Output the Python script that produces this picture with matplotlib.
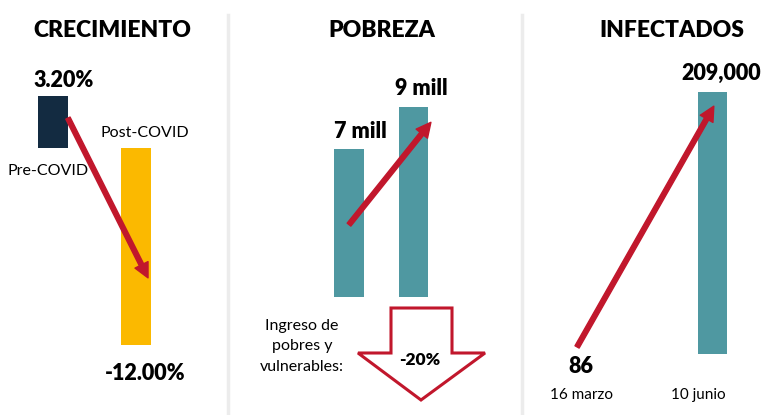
import matplotlib
matplotlib.use('agg')
import matplotlib.pyplot as plt
from matplotlib.lines import Line2D
from matplotlib.patches import Polygon

plt.rcParams['font.family'] = ['Lato', 'DejaVu Sans']

# data
crec_labels = ["Pre-COVID", "Post-COVID"]
crec_values = [3.2, -12.0]
crec_text = ["3.20%", "-12.00%"]

pob_values = [7, 9]
pob_text = ["7 mill", "9 mill"]
ingreso_text = "-20%"

inf_labels = ["16 marzo", "10 junio"]
inf_values = [86, 209000]
inf_text = ["86", "209,000"]

NAVY = '#132b41'
GOLD = '#fbb900'
TEAL = '#4f98a1'
RED = '#c1172c'
SEP = '#ececec'
BOLD = 'heavy'

W, H = 766, 415
fig = plt.figure(figsize=(W / 100, H / 100), dpi=100)
fig.patch.set_facecolor('white')


def panel_axes(left_px, right_px, x0, sx, y0, sy):
    # axes covering one column, limits chosen so data units map onto the layout
    ax = fig.add_axes([left_px / W, 0, (right_px - left_px) / W, 1])
    ax.set_xlim((left_px - x0) / sx, (right_px - x0) / sx)
    ax.set_ylim((y0 - H) / sy, y0 / sy)
    ax.axis('off')
    return ax


def label(ax, x, y, s, dx, dy, size, bold=True, ha='center'):
    ax.annotate(s, xy=(x, y), xytext=(dx, dy), textcoords='offset pixels',
                ha=ha, va='baseline', fontsize=size,
                fontweight=BOLD if bold else 'normal', color='black',
                annotation_clip=False)


def red_arrow(ax, start, tip):
    ax.annotate('', xy=tip, xytext=start,
                arrowprops=dict(width=3.4, headwidth=10.5, headlength=10.5,
                                color=RED, shrink=0),
                annotation_clip=False)


def title(x_px, s):
    fig.text(x_px / W, 1 - 37 / H, s, ha='center', va='baseline',
             fontsize=16.5, fontweight=BOLD)


# separators
for xs in (228, 522):
    fig.add_artist(Line2D([xs / W] * 2, [0, 1 - 15 / H], color=SEP, lw=2.5))

# ---- CRECIMIENTO
ax1 = panel_axes(0, 228, 53, 83, 148, 16.4)
ax1.bar(range(2), crec_values, width=0.36, color=[NAVY, GOLD])
title(112, "CRECIMIENTO")
label(ax1, 0, crec_values[0], crec_text[0], 11, 9, 15.5)
label(ax1, 1, crec_values[1], crec_text[1], 9, -35, 15.5)
label(ax1, 0, 0, crec_labels[0], -5, -27, 11.5, bold=False)
label(ax1, 1, 0, crec_labels[1], 9, 11, 11.5, bold=False)
red_arrow(ax1, (0.18, crec_values[0] * 0.57), (1.145, crec_values[1] * 0.66))

# ---- POBREZA
ax2 = panel_axes(228, 522, 349, 64.5, 297, 21.1)
ax2.bar(range(2), pob_values, width=0.465, color=TEAL)
title(382, "POBREZA")
label(ax2, 0, pob_values[0], pob_text[0], 11, 11, 15.5)
label(ax2, 1, pob_values[1], pob_text[1], 8, 12, 15.5)
red_arrow(ax2, (0, pob_values[0] * 0.49), (1.27, pob_values[1] * 0.92))

# hollow down arrow for income change
pts = [(391, 308), (452, 308), (452, 353), (485, 353), (421, 400),
       (358, 353), (391, 353)]
fig.add_artist(Polygon([(x / W, 1 - y / H) for x, y in pts], closed=True,
                       facecolor='white', edgecolor=RED, lw=2.2,
                       joinstyle='miter', transform=fig.transFigure))
fig.text(420 / W, 1 - 365 / H, ingreso_text, ha='center', va='baseline',
         fontsize=12.5, fontweight=BOLD)
for line, yb in zip(["Ingreso de", "pobres y", "vulnerables:"], [330, 350, 371]):
    fig.text(302 / W, 1 - yb / H, line, ha='center', va='baseline', fontsize=11.5)

# ---- INFECTADOS
sy3 = 262 / 209000
ax3 = panel_axes(522, 766, 581, 131.5, 354, sy3)
ax3.bar(range(2), inf_values, width=0.22, color=TEAL)
title(672, "INFECTADOS")
label(ax3, 0, inf_values[0], inf_text[0], 0, -19, 15.5)
label(ax3, 1, inf_values[1], inf_text[1], 8.5, 12, 15.5)
label(ax3, 0, 0, inf_labels[0], 0, -45, 11, bold=False)
label(ax3, 1, 0, inf_labels[1], -14, -45, 11, bold=False)
red_arrow(ax3, (-0.03, inf_values[1] * 0.027), (1.01, inf_values[1] * 0.946))

fig.savefig('out.png', dpi=100)
